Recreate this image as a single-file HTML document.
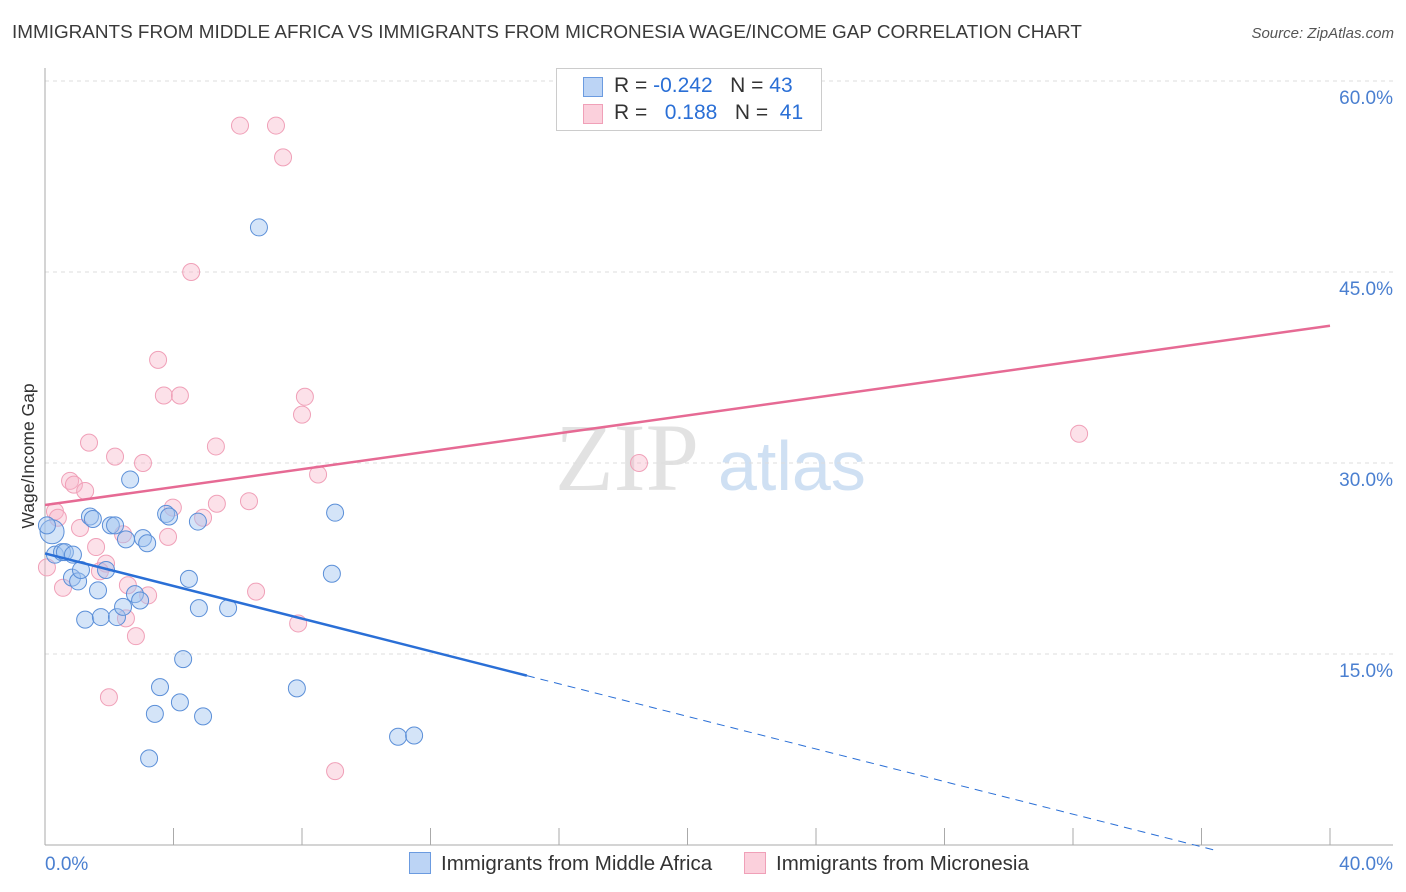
<!DOCTYPE html>
<html><head><meta charset="utf-8"><style>
body{margin:0;background:#fff;font-family:"Liberation Sans",sans-serif;}
#wrap{position:relative;width:1406px;height:892px;overflow:hidden}
.t{position:absolute;white-space:nowrap}
</style></head><body>
<div id="wrap">
<div class="t" style="left:12px;top:22px;font-size:18.9px;color:#3a3a3a">IMMIGRANTS FROM MIDDLE AFRICA VS IMMIGRANTS FROM MICRONESIA WAGE/INCOME GAP CORRELATION CHART</div>
<div class="t" style="right:12px;top:25px;font-size:15px;color:#555;font-style:italic">Source: ZipAtlas.com</div>
<svg id="svg" width="1406" height="892" style="position:absolute;left:0;top:0"></svg>
</div>
<script>
const blueX=[0.22,0.31,0.53,0.62,0.84,1.03,0.87,1.12,1.25,1.40,1.49,1.65,1.74,1.90,2.05,2.18,2.24,2.43,2.52,2.65,2.80,2.96,3.05,3.18,3.24,3.42,3.58,3.77,3.86,4.20,4.30,4.48,4.76,4.79,4.92,5.70,6.66,7.84,8.93,9.03,10.99,11.49,0.06];
const blueY=[24.6,22.8,23.0,23.0,21.0,20.7,22.8,21.6,17.7,25.8,25.6,20.0,17.9,21.6,25.1,25.1,17.9,18.7,24.0,28.7,19.7,19.2,24.1,23.7,6.8,10.3,12.4,26.0,25.8,11.2,14.6,20.9,25.4,18.6,10.1,18.6,48.5,12.3,21.3,26.1,8.5,8.6,25.1];
const pinkX=[6.07,7.19,7.41,4.55,3.52,3.70,4.20,8.09,8.00,1.37,5.32,2.18,3.05,8.50,18.49,32.19,0.78,0.90,1.25,6.35,3.98,5.35,4.92,0.31,0.40,1.09,2.43,3.83,1.59,1.90,1.71,0.06,0.56,2.58,3.21,2.52,7.88,2.83,6.57,1.99,9.03];
const pinkY=[56.5,56.5,54.0,45.0,38.1,35.3,35.3,35.2,33.8,31.6,31.3,30.5,30.0,29.1,30.0,32.3,28.6,28.3,27.8,27.0,26.5,26.8,25.7,26.2,25.7,24.9,24.4,24.2,23.4,22.1,21.5,21.8,20.2,20.4,19.6,17.8,17.4,16.4,19.9,11.6,5.8];
const yTicks=[15,30,45,60];
const yTickLabels=["15.0%","30.0%","45.0%","60.0%"];
const blueTrend=[22.9,-0.64]; // intercept, slope
const pinkTrend=[26.7,0.352];
const X=v=>45+v/40*1285, Y=v=>845-v/15*191;
const s=document.getElementById('svg'),NS='http://www.w3.org/2000/svg';
function mk(t,a,p){const e=document.createElementNS(NS,t);for(const k in a)e.setAttribute(k,a[k]);(p||s).appendChild(e);return e;}
let w=mk('text',{x:555,y:490,'font-size':96,fill:'#e2e2e2','font-family':'Liberation Serif'});w.textContent='ZIP';


let w2=mk('text',{x:718,y:490,'font-size':70,fill:'#cfe0f3','font-family':'Liberation Sans'});w2.textContent='atlas';


yTicks.forEach((v,i)=>{let g=mk('line',{x1:45,x2:1393,y1:Y(v),y2:Y(v),stroke:'#ddd','stroke-dasharray':'4,4'});


let t=mk('text',{x:1393,y:Y(v)+23,'text-anchor':'end','font-size':19,fill:'#4a7fd0'});t.textContent=yTickLabels[i];

});
let ax=mk('line',{x1:45,x2:45,y1:68,y2:845,stroke:'#aaa'});
let bx=mk('line',{x1:45,x2:1393,y1:845,y2:845,stroke:'#aaa'});
for(let i=1;i<=10;i++){let tk=mk('line',{x1:X(i*4),x2:X(i*4),y1:828,y2:845,stroke:'#aaa'});}
let xl=mk('text',{x:45,y:870,'font-size':19,fill:'#4a7fd0'});xl.textContent='0.0%';
let xr=mk('text',{x:1393,y:870,'text-anchor':'end','font-size':19,fill:'#4a7fd0'});xr.textContent='40.0%';
let yt=mk('text',{x:34,y:456,'text-anchor':'middle','font-size':17.5,fill:'#333',transform:'rotate(-90 34 456)'});yt.textContent='Wage/Income Gap';
pinkX.forEach((v,i)=>{let c=mk('circle',{cx:X(v),cy:Y(pinkY[i]),r:8.5,fill:'rgba(248,180,200,0.4)',stroke:'#f0a0b8','stroke-width':1});

});
blueX.forEach((v,i)=>{let c=mk('circle',{cx:X(v),cy:Y(blueY[i]),r:i==0?12:8.5,fill:'rgba(160,195,240,0.45)',stroke:'#5b8fd8','stroke-width':1});

});
let l1=mk('line',{x1:X(0),y1:Y(blueTrend[0]),x2:X(15),y2:Y(blueTrend[0]+blueTrend[1]*15),stroke:'#2a6fd6','stroke-width':2.5});

let l2=mk('line',{x1:X(15),y1:Y(blueTrend[0]+blueTrend[1]*15),x2:X(36.4),y2:Y(blueTrend[0]+blueTrend[1]*36.4),stroke:'#2a6fd6','stroke-width':1,'stroke-dasharray':'8,6'});

let l3=mk('line',{x1:X(0),y1:Y(pinkTrend[0]),x2:X(40),y2:Y(pinkTrend[0]+pinkTrend[1]*40),stroke:'#e66a94','stroke-width':2.5});

</script>
<div class="t" style="left:556px;top:68px;width:264px;height:61px;border:1px solid #ccc;background:#fff;font-size:21px;color:#333">
<div style="position:absolute;left:26px;top:8px;width:18px;height:18px;background:#bcd4f5;border:1px solid #6b9be0"></div>
<div style="position:absolute;left:57px;top:5px">R = <span style="color:#2a6fd6">-0.242</span>&nbsp;&nbsp;&nbsp;N = <span style="color:#2a6fd6">43</span></div>
<div style="position:absolute;left:26px;top:35px;width:18px;height:18px;background:#fbd0dc;border:1px solid #f0a0b8"></div>
<div style="position:absolute;left:57px;top:32px">R = &nbsp;&nbsp;<span style="color:#2a6fd6">0.188</span>&nbsp;&nbsp;&nbsp;N = &nbsp;<span style="color:#2a6fd6">41</span></div>
</div>
<div class="t" style="left:409px;top:852px;font-size:20.5px;color:#333"><span style="display:inline-block;width:20px;height:20px;background:#bcd4f5;border:1px solid #6b9be0;vertical-align:-4px;margin-right:10px"></span>Immigrants from Middle Africa</div>
<div class="t" style="left:744px;top:852px;font-size:20.5px;color:#333"><span style="display:inline-block;width:20px;height:20px;background:#fbd0dc;border:1px solid #f0a0b8;vertical-align:-4px;margin-right:10px"></span>Immigrants from Micronesia</div>
</body></html>
